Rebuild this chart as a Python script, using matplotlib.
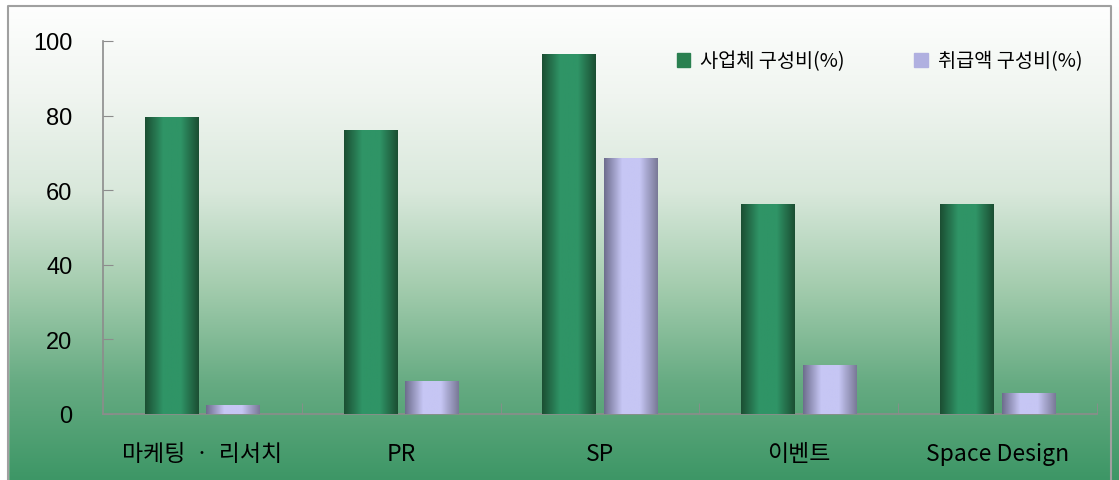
import numpy as np
import matplotlib.pyplot as plt
from matplotlib.patches import Rectangle, Patch
from matplotlib.colors import LinearSegmentedColormap

plt.rcParams['font.family'] = ['Noto Sans CJK KR', 'DejaVu Sans']

categories = ["마케팅  ·  리서치", "PR", "SP", "이벤트", "Space Design"]
business_share = [79.5, 76.2, 96.5, 56.4, 56.4]
amount_share = [2.5, 8.9, 68.6, 13.1, 5.6]
series_names = ["사업체 구성비(%)", "취급액 구성비(%)"]
y_ticks = [0, 20, 40, 60, 80, 100]

fig = plt.figure(figsize=(11.19, 4.81), dpi=100)

# background gradient (white at top -> green at bottom)
bg = fig.add_axes([0, 0, 1, 1], zorder=-10)
bg_cmap = LinearSegmentedColormap.from_list("bg", [
    (0.0, (1.0, 1.0, 1.0)),
    (0.2, (0.94, 0.96, 0.94)),
    (0.4, (0.85, 0.91, 0.86)),
    (0.6, (0.64, 0.80, 0.68)),
    (0.8, (0.40, 0.67, 0.51)),
    (1.0, (0.24, 0.59, 0.40)),
])
grad = np.linspace(0, 1, 256).reshape(-1, 1)
bg.imshow(grad, aspect="auto", cmap=bg_cmap, extent=[0, 1, 0, 1], origin="upper")
bg.add_patch(Rectangle((0, 0), 8 / 1119, 1, color="white", zorder=2))
bg.add_patch(Rectangle((0, 1 - 7 / 481), 1, 7 / 481, color="white", zorder=2))
bg.plot([8 / 1119, 8 / 1119, 1111 / 1119, 1111 / 1119], [0, 1 - 7 / 481, 1 - 7 / 481, 0],
        color="#a0a0a0", lw=1.5, zorder=3)
bg.set_xlim(0, 1)
bg.set_ylim(0, 1)
bg.axis("off")

ax = fig.add_axes([103 / 1119, 1 - 415 / 481, 994 / 1119, 373 / 481])
ax.patch.set_alpha(0)

x = np.arange(len(categories))
w = 0.27
off = 0.155
bars1 = ax.bar(x - off, business_share, w, color="#2a8050", zorder=2)
bars2 = ax.bar(x + off, amount_share, w, color="#b0b0e0", zorder=2)

# cylinder-like shading across each bar
green_cmap = LinearSegmentedColormap.from_list("g", ["#1b4f33", "#2f9466", "#2f9466", "#1b4f33"])
purple_cmap = LinearSegmentedColormap.from_list("p", ["#6e6e8e", "#c6c6f4", "#c6c6f4", "#7a7a98"])
shade = np.linspace(0, 1, 64).reshape(1, -1)
for bars, cm in [(bars1, green_cmap), (bars2, purple_cmap)]:
    for b in bars:
        x0, y0 = b.get_x(), b.get_y()
        im = ax.imshow(shade, aspect="auto", cmap=cm,
                       extent=[x0, x0 + b.get_width(), y0, y0 + b.get_height()], zorder=3)
        im.set_clip_path(b)

ax.set_xlim(-0.5, len(categories) - 0.5)
ax.set_ylim(0, 100)
ax.set_yticks(y_ticks)
ax.set_yticklabels([str(t) for t in y_ticks], family="Liberation Sans", fontsize=17)
ax.set_xticks(x)
ax.set_xticklabels(categories, fontsize=16.5)
ax.set_xticks(np.arange(len(categories)) + 0.5, minor=True)

for s in ["top", "right"]:
    ax.spines[s].set_visible(False)
for s in ["left", "bottom"]:
    ax.spines[s].set_color("#8c8c8c")
    ax.spines[s].set_linewidth(1.2)

ax.tick_params(axis="y", direction="in", length=7, color="#8c8c8c", pad=22)
ax.tick_params(axis="x", which="major", length=0, pad=20)
ax.tick_params(axis="x", which="minor", direction="in", length=8, color="#8c8c8c")

handles = [Patch(color="#2a8050"), Patch(color="#b0b0e0")]
fig.legend(handles, series_names, loc="center right", bbox_to_anchor=(1100 / 1119, 1 - 62 / 481),
           frameon=False, ncol=2, fontsize=14.2, handlelength=0.7, handleheight=0.7,
           handletextpad=0.5, columnspacing=3.5)

fig.savefig("out.png", dpi=100)
